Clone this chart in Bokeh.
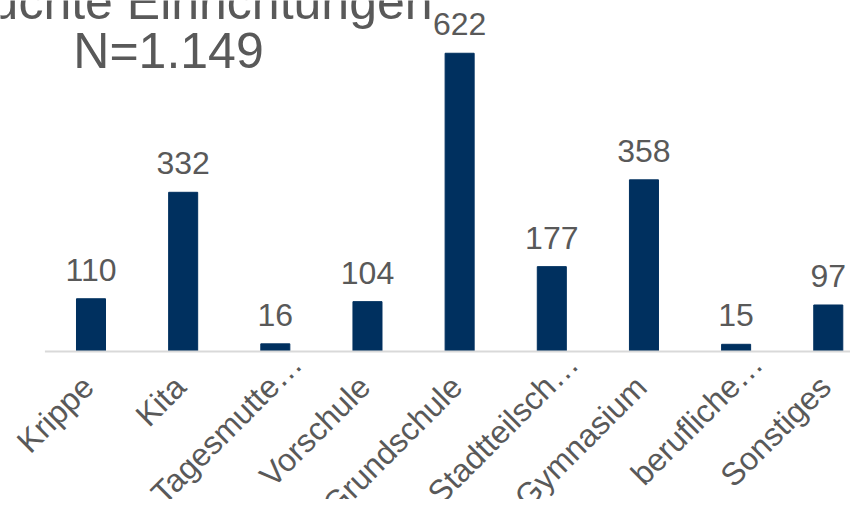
from math import pi
from bokeh.plotting import figure
from bokeh.models import ColumnDataSource, Range1d, Label
from bokeh.core.properties import value
from bokeh.embed import file_html
from bokeh.resources import INLINE

categories = ["Krippe", "Kita", "Tagesmutte…", "Vorschule", "Grundschule",
              "Stadtteilsch…", "Gymnasium", "berufliche…", "Sonstiges"]
values = [110, 332, 16, 104, 622, 177, 358, 15, 97]
title_lines = ["Besuchte Einrichtungen", "N=1.149"]

FONT = "Liberation Sans"
TXT = "#595959"
BAR = "#00305F"

n = len(categories)
idx = list(range(n))
trunc = [c.endswith("…") for c in categories]
src = ColumnDataSource(dict(
    x=idx, v=values, zero=[0] * n, lab=[str(v) for v in values], cat=categories,
    cx=[21 if t else -3 for t in trunc], cy=[7 if t else 30 for t in trunc]))

PX_X = 92.16   # pixels per category
PX_Y = 0.4795  # pixels per unit
W, H = 850, 499
X0, Y0 = 90.5, 351  # screen position of first category / zero line
x_start = -X0 / PX_X
y_start = -(H - Y0) / PX_Y

p = figure(width=W, height=H, output_backend="svg", toolbar_location=None,
           x_range=Range1d(x_start, x_start + W / PX_X),
           y_range=Range1d(y_start, y_start + H / PX_Y),
           x_axis_location=None, y_axis_location=None,
           min_border=0, tools="")
p.outline_line_color = None
p.grid.visible = False
p.background_fill_color = "white"
p.border_fill_color = "white"

p.vbar(x="x", top="v", width=0.315, source=src, color=BAR)

# category axis baseline
p.segment(x0=[-0.5], y0=[0], x1=[n - 0.5], y1=[0], line_color="#D9D9D9", line_width=2)

# value labels
p.text(x="x", y="v", text="lab", source=src, text_align="center",
       text_baseline="alphabetic", y_offset=-29, text_color=TXT,
       text_font=value(FONT), text_font_size="32px")

# category tick labels
p.text(x="x", y="zero", text="cat", source=src, text_align="right",
       text_baseline="middle", angle=pi / 4, x_offset="cx", y_offset="cy",
       text_color=TXT, text_font=value(FONT), text_font_size="32px")

t1 = Label(x=168, y=H - 21 + 20, x_units="screen", y_units="screen", text=title_lines[0],
           text_align="center", text_baseline="alphabetic", text_color=TXT,
           text_font=FONT, text_font_size="50px")
t2 = Label(x=168, y=H - 70 + 20, x_units="screen", y_units="screen", text=title_lines[1],
           text_align="center", text_baseline="alphabetic", text_color=TXT,
           text_font=FONT, text_font_size="50px")
p.add_layout(t1)
p.add_layout(t2)

open("out.html", "w").write(file_html(p, INLINE))
